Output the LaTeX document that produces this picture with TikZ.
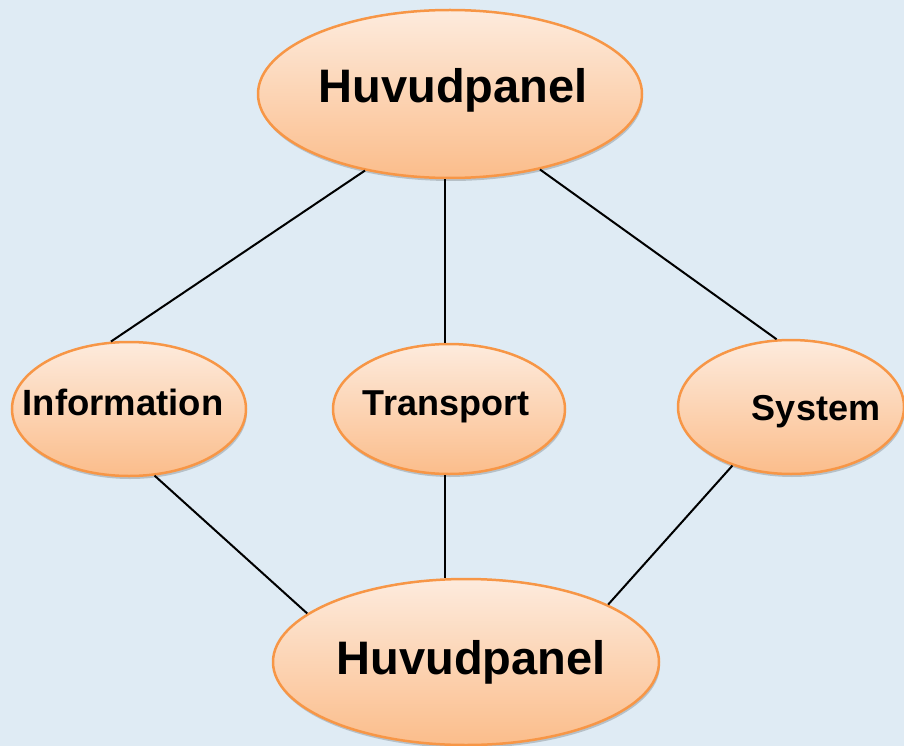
\documentclass[tikz,border=0pt]{standalone}
\usepackage{fontspec}
\setmainfont{Liberation Sans}
\usetikzlibrary{shapes.geometric,shadows}
\definecolor{bgblue}{HTML}{DFEBF4}
\definecolor{ellborder}{HTML}{F79646}
\definecolor{elltop}{HTML}{FDEBDD}
\definecolor{ellbot}{HTML}{FBBD8B}
\tikzset{
  oval/.style={ellipse, draw=ellborder, line width=2.5pt, inner sep=0pt,
    top color=elltop, bottom color=ellbot,
    drop shadow={shadow xshift=1pt, shadow yshift=-3pt, opacity=0.18, fill=black}},
  bigtxt/.style={anchor=base, inner sep=0pt, font=\bfseries\fontsize{47}{50}\selectfont},
  smalltxt/.style={anchor=base, inner sep=0pt, font=\bfseries\fontsize{36}{40}\selectfont},
  link/.style={draw=black, line width=2pt}
}
\begin{document}
\begin{tikzpicture}[x=1pt,y=-1pt]
\fill[bgblue] (0,0) rectangle (904,746);
\useasboundingbox (0,0) rectangle (904,746);
\node[oval, minimum width=384pt, minimum height=168pt] (top) at (450,94) {};
\node[oval, minimum width=234pt, minimum height=134pt] (info) at (129,409) {};
\node[oval, minimum width=232pt, minimum height=130pt] (trans) at (449,409) {};
\node[oval, minimum width=226pt, minimum height=134pt] (sys) at (791,407) {};
\node[oval, minimum width=386pt, minimum height=166pt] (bot) at (466,662) {};
\node[bigtxt] (toptxt) at (453,103) {Huvudpanel};
\node[smalltxt, font=\bfseries\fontsize{36.5}{40}\selectfont] (infotxt) at (123,415) {Information};
\node[smalltxt] (transtxt) at (446,415) {Transport};
\node[smalltxt] (systxt) at (816,420) {System};
\node[bigtxt] (bottxt) at (471,674) {Huvudpanel};
\draw[link] (top.222) -- (info.105);
\draw[link] (top.south -| trans.north) ++(-4,0) coordinate (tm) -- (tm |- trans.north) coordinate (tn);
\draw[link] (top.-40) -- (sys.102);
\draw[link] (info.291) -- (bot.163);
\draw[link] (trans.south) ++(-4,0) coordinate (ts) -- (ts |- bot.north);
\draw[link] (sys.225) -- (bot.22);
\end{tikzpicture}
\end{document}
